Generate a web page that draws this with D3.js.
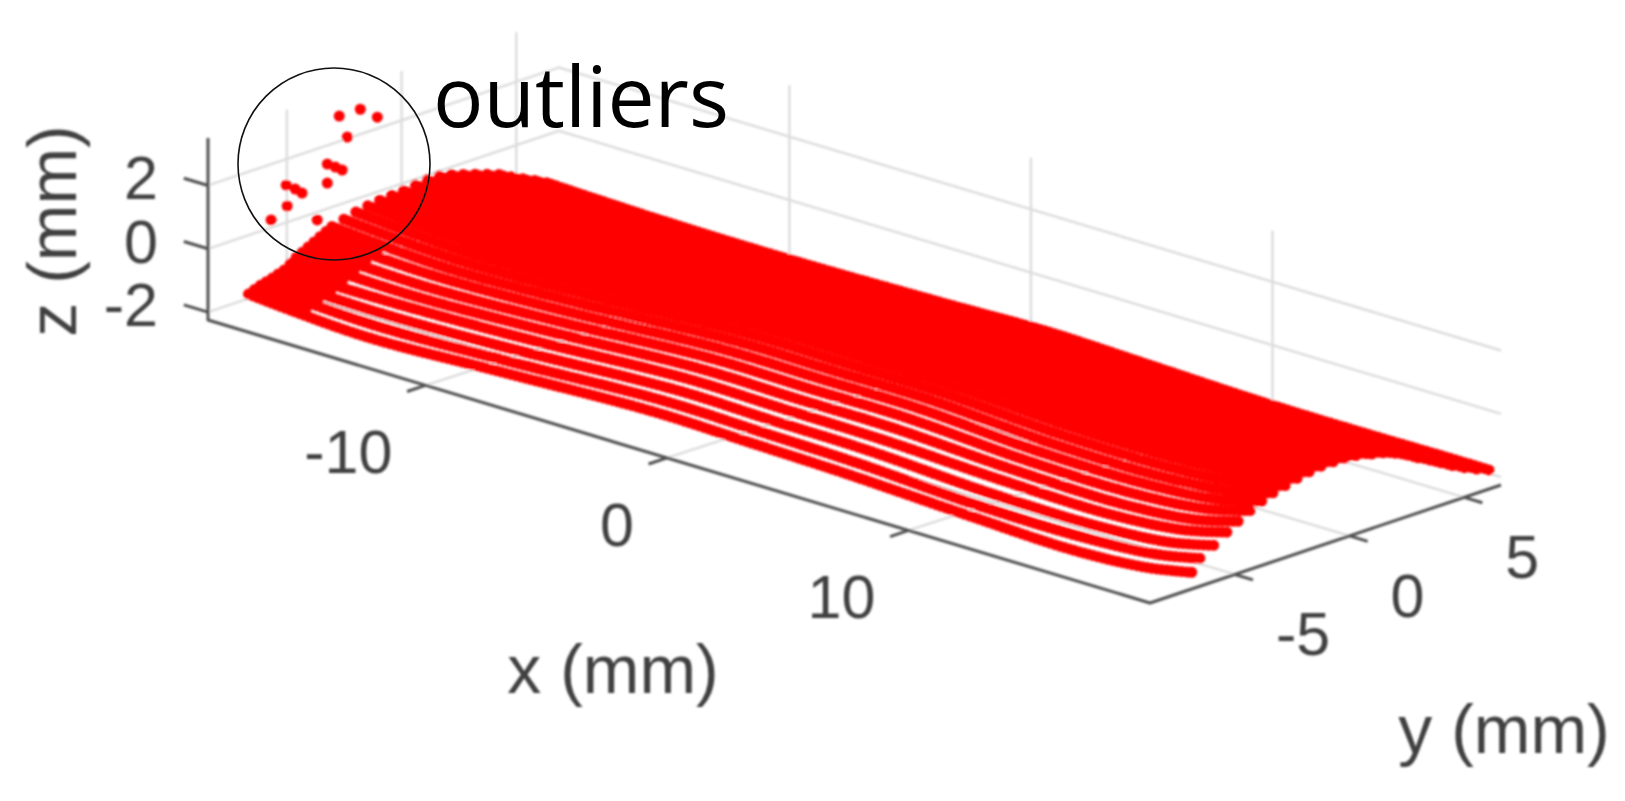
<!DOCTYPE html>
<html>
<head>
<meta charset="utf-8">
<style>
  html, body { margin: 0; padding: 0; background: #fff; }
  svg { display: block; }
  .tick-label, .axis-label { font-family: "Liberation Sans", Arial, sans-serif; fill: #404040; }
</style>
<script src="https://cdn.jsdelivr.net/npm/d3@7"></script>
</head>
<body>
<div id="chart"></div>
<script>
// Axis limits and ticks (mm)
const xLim = [-19, 20]
const yLim = [-8.7, 6.6]
const zLim = [-2.25, 3.5]
const xTicks = [-10, 0, 10]
const yTicks = [-5, 0, 5]
const zTicks = [-2, 0, 2]

const stationX = [-19.7, -15, -9.5, -3, 1, 5, 10, 14.5, 17.5, 19.4]
const rowY = [-6.2, -5.68, -5.16, -4.64, -4.12, -3.6, -3.08, -2.56, -2.04, -1.52, -1, -0.48, 0.04,
  0.56, 1.08, 1.6, 2.12, 2.64, 3.16, 3.68, 4.2, 4.72, 5.24, 5.76, 6.28, 6.8]
const rowZ = [
  [-2.2, -2.43, -2.27, -2.07, -2.13, -2.2, -2.36, -2.46, -2.31, -2.03],
  [-2.05, -2.23, -2.1, -1.87, -1.93, -2.0, -2.19, -2.2, -2.03, -1.72],
  [-1.95, -2.03, -1.9, -1.65, -1.7, -1.74, -1.93, -1.95, -1.77, -1.43],
  [-1.82, -1.82, -1.69, -1.43, -1.47, -1.5, -1.65, -1.7, -1.5, -1.14],
  [-1.55, -1.65, -1.5, -1.23, -1.26, -1.27, -1.45, -1.5, -1.3, -0.92],
  [-1.35, -1.48, -1.33, -1.04, -1.06, -1.06, -1.27, -1.3, -1.09, -0.71],
  [-1.15, -1.3, -1.17, -0.88, -0.89, -0.89, -1.11, -1.12, -0.92, -0.54],
  [-0.95, -1.17, -1.03, -0.74, -0.75, -0.75, -0.97, -0.98, -0.78, -0.4],
  [-0.85, -1.06, -0.92, -0.63, -0.64, -0.65, -0.85, -0.85, -0.66, -0.3],
  [-0.75, -0.97, -0.83, -0.54, -0.55, -0.57, -0.75, -0.74, -0.55, -0.2],
  [-0.68, -0.9, -0.76, -0.47, -0.48, -0.5, -0.7, -0.66, -0.47, -0.12],
  [-0.63, -0.85, -0.71, -0.42, -0.43, -0.45, -0.66, -0.6, -0.42, -0.07],
  [-0.6, -0.82, -0.68, -0.39, -0.39, -0.42, -0.62, -0.56, -0.38, -0.06],
  [-0.58, -0.8, -0.66, -0.37, -0.37, -0.4, -0.6, -0.55, -0.38, -0.07],
  [-0.53, -0.8, -0.66, -0.37, -0.38, -0.42, -0.58, -0.56, -0.41, -0.12],
  [-0.49, -0.82, -0.69, -0.39, -0.41, -0.5, -0.63, -0.65, -0.49, -0.19],
  [-0.5, -0.84, -0.72, -0.43, -0.45, -0.57, -0.68, -0.69, -0.55, -0.28],
  [-0.58, -0.85, -0.75, -0.49, -0.51, -0.64, -0.75, -0.74, -0.63, -0.42],
  [-0.7, -0.92, -0.8, -0.59, -0.6, -0.73, -0.82, -0.8, -0.72, -0.6],
  [-0.82, -1.0, -0.89, -0.73, -0.71, -0.82, -0.92, -0.92, -0.86, -0.83],
  [-0.95, -1.13, -1.04, -0.9, -0.85, -0.94, -1.04, -1.1, -1.05, -1.03],
  [-1.08, -1.27, -1.2, -1.08, -1.0, -1.08, -1.17, -1.3, -1.27, -1.25],
  [-1.28, -1.45, -1.4, -1.28, -1.2, -1.28, -1.39, -1.5, -1.48, -1.47],
  [-1.47, -1.6, -1.6, -1.48, -1.4, -1.48, -1.59, -1.7, -1.67, -1.66],
  [-1.65, -1.77, -1.8, -1.68, -1.6, -1.68, -1.79, -1.87, -1.84, -1.83],
  [-1.85, -1.95, -1.97, -1.88, -1.8, -1.88, -1.99, -2.0, -1.98, -1.98]
]

// Short extra rows in the messy block at the left end of the scan
const stubX = [-19.7, -18.5, -17.5]
const stubY = [-5.94, -5.42, -4.9, -4.38, -3.86, -3.34, -2.82]
const stubZ = [
  [-2.12, -2.18, -2.22],
  [-2.0, -2.03, -2.06],
  [-1.88, -1.89, -1.9],
  [-1.68, -1.69, -1.7],
  [-1.45, -1.47, -1.5],
  [-1.25, -1.28, -1.32],
  [-1.05, -1.09, -1.14]
]

// Stray points above the left end of the surface
const outlierX = [-19, -19, -19, -19, -19, -19, -19, -19, -19, -19, -19, -19, -19, -19]
const outlierY = [-2.98, -2.06, -1.32, -2.63, -3.5, -3.15, -2.85, -3.5, -5.29, -4.9, -4.6, -5.25, -5.95, -3.94]
const outlierZ = [2.8, 2.79, 2.36, 2.05, 1.41, 1.23, 1.06, 0.81, 1.18, 0.96, 0.76, 0.51, 0.24, -0.25]

const width = 1625
const height = 801

const svg = d3
  .select('#chart')
  .append('svg')
  .attr('width', width)
  .attr('height', height)

// The original is a screenshot, everything in it is a little soft

svg
  .append('defs')
  .append('filter')
  .attr('id', 'soft')
  .attr('filterUnits', 'userSpaceOnUse')
  .attr('x', 0)
  .attr('y', 0)
  .attr('width', width)
  .attr('height', height)
  .append('feGaussianBlur')
  .attr('stdDeviation', 0.9)

const chart = svg.append('g').attr('filter', 'url(#soft)')

// 3D view: where the three box edges land on the page

const origin = [208, 320]
const xEdge = [942, 283]
const yEdge = [351, -118]
const zEdge = 182

const xScale = d3.scaleLinear().domain(xLim).range([0, 1])
const yScale = d3.scaleLinear().domain(yLim).range([0, 1])
const zScale = d3.scaleLinear().domain(zLim).range([0, 1])

function project(x, y, z) {
  const u = xScale(x)
  const v = yScale(y)
  return [
    origin[0] + u * xEdge[0] + v * yEdge[0],
    origin[1] + u * xEdge[1] + v * yEdge[1] - zScale(z) * zEdge
  ]
}

const segment = d3.line()

// Grid lines on the floor and the two back walls.
// The view has a bit of perspective, so the far end of a line gets nudged sideways

const gridLines = []
xTicks.forEach(t => {
  gridLines.push({ nudge: 13, points: [[t, yLim[0], zLim[0]], [t, yLim[1], zLim[0]], [t, yLim[1], zLim[1]]] })
})
yTicks.forEach(t => {
  gridLines.push({ nudge: -6, points: [[xLim[1], t, zLim[0]], [xLim[0], t, zLim[0]], [xLim[0], t, zLim[1]]] })
})
zTicks.forEach(t => {
  gridLines.push({ nudge: 0, points: [[xLim[0], yLim[0], t], [xLim[0], yLim[1], t], [xLim[1], yLim[1], t]] })
})

chart
  .append('g')
  .selectAll('path')
  .data(gridLines)
  .enter()
  .append('path')
  .attr('d', d =>
    segment(
      d.points.map((p, i) => {
        const page = project(p[0], p[1], p[2])
        return [page[0] + (i > 0 ? d.nudge : 0), page[1]]
      })
    )
  )
  .attr('fill', 'none')
  .attr('stroke', '#dcdcdc')
  .attr('stroke-width', 2.4)

// Axes

const axisColor = '#505050'
const axisLines = [
  [[xLim[0], yLim[0], zLim[1]], [xLim[0], yLim[0], zLim[0]], [xLim[1], yLim[0], zLim[0]], [xLim[1], yLim[1], zLim[0]]]
]
xTicks.forEach(t => axisLines.push([[t, yLim[0], zLim[0]], [t, yLim[0] - 0.8, zLim[0]]]))
yTicks.forEach(t => axisLines.push([[xLim[1], t, zLim[0]], [xLim[1] + 0.75, t, zLim[0]]]))
zTicks.forEach(t => axisLines.push([[xLim[0], yLim[0], t], [xLim[0] - 1, yLim[0], t]]))

chart
  .append('g')
  .selectAll('path')
  .data(axisLines)
  .enter()
  .append('path')
  .attr('d', d => segment(d.map(p => project(p[0], p[1], p[2]))))
  .attr('fill', 'none')
  .attr('stroke', axisColor)
  .attr('stroke-width', 3)
  .attr('stroke-linejoin', 'round')

// Tick labels

chart
  .append('g')
  .selectAll('text')
  .data(xTicks)
  .enter()
  .append('text')
  .attr('class', 'tick-label')
  .text(d => d)
  .attr('x', d => project(d, yLim[0], zLim[0])[0] - 33)
  .attr('y', d => project(d, yLim[0], zLim[0])[1] + 88)
  .attr('text-anchor', 'end')
  .attr('font-size', 61)

chart
  .append('g')
  .selectAll('text')
  .data(yTicks)
  .enter()
  .append('text')
  .attr('class', 'tick-label')
  .text(d => d)
  .attr('x', d => project(xLim[1], d, zLim[0])[0] + 41)
  .attr('y', d => project(xLim[1], d, zLim[0])[1] + 81)
  .attr('font-size', 61)

chart
  .append('g')
  .selectAll('text')
  .data(zTicks)
  .enter()
  .append('text')
  .attr('class', 'tick-label')
  .text(d => d)
  .attr('x', 158)
  .attr('y', d => project(xLim[0], yLim[0], d)[1] + 14)
  .attr('text-anchor', 'end')
  .attr('font-size', 61)

// Axis labels

chart
  .append('text')
  .attr('class', 'axis-label')
  .text('x (mm)')
  .attr('x', 613)
  .attr('y', 693)
  .attr('text-anchor', 'middle')
  .attr('font-size', 68)

chart
  .append('text')
  .attr('class', 'axis-label')
  .text('y (mm)')
  .attr('x', 1504)
  .attr('y', 753)
  .attr('text-anchor', 'middle')
  .attr('font-size', 68)

chart
  .append('text')
  .attr('class', 'axis-label')
  .text('z (mm)')
  .attr('text-anchor', 'middle')
  .attr('font-size', 68)
  .attr('transform', 'translate(76,231) rotate(-90)')

// Scan lines, drawn as rows of round dots

const scanLine = d3
  .line()
  .x(d => d[0])
  .y(d => d[1])
  .curve(d3.curveCatmullRom)

chart
  .append('g')
  .selectAll('path')
  .data(rowY)
  .enter()
  .append('path')
  .attr('class', 'scan-line')
  .attr('d', (y, i) => scanLine(stationX.map((x, j) => project(x, y, rowZ[i][j]))))
  .attr('fill', 'none')
  .attr('stroke', '#ff0000')
  .attr('stroke-width', 11)
  .attr('stroke-linecap', 'round')
  .attr('stroke-dasharray', '0 5')

chart
  .append('g')
  .selectAll('path.stub')
  .data(stubY)
  .enter()
  .append('path')
  .attr('class', 'stub')
  .attr('d', (y, i) => scanLine(stubX.map((x, j) => project(x, y, stubZ[i][j]))))
  .attr('fill', 'none')
  .attr('stroke', '#ff0000')
  .attr('stroke-width', 11)
  .attr('stroke-linecap', 'round')
  .attr('stroke-dasharray', '0 5')

chart
  .append('g')
  .selectAll('circle')
  .data(outlierY)
  .enter()
  .append('circle')
  .attr('class', 'outlier')
  .attr('cx', (y, i) => project(outlierX[i], y, outlierZ[i])[0])
  .attr('cy', (y, i) => project(outlierX[i], y, outlierZ[i])[1])
  .attr('r', 5.5)
  .attr('fill', '#ff0000')

// Annotation

svg
  .append('circle')
  .attr('cx', 334)
  .attr('cy', 164)
  .attr('r', 96)
  .attr('fill', 'none')
  .attr('stroke', '#111')
  .attr('stroke-width', 1.6)

svg
  .append('text')
  .text('outliers')
  .attr('x', 433)
  .attr('y', 127)
  .attr('font-family', '"Open Sans", sans-serif')
  .attr('font-size', 84)
  .attr('fill', '#000')
</script>
</body>
</html>
